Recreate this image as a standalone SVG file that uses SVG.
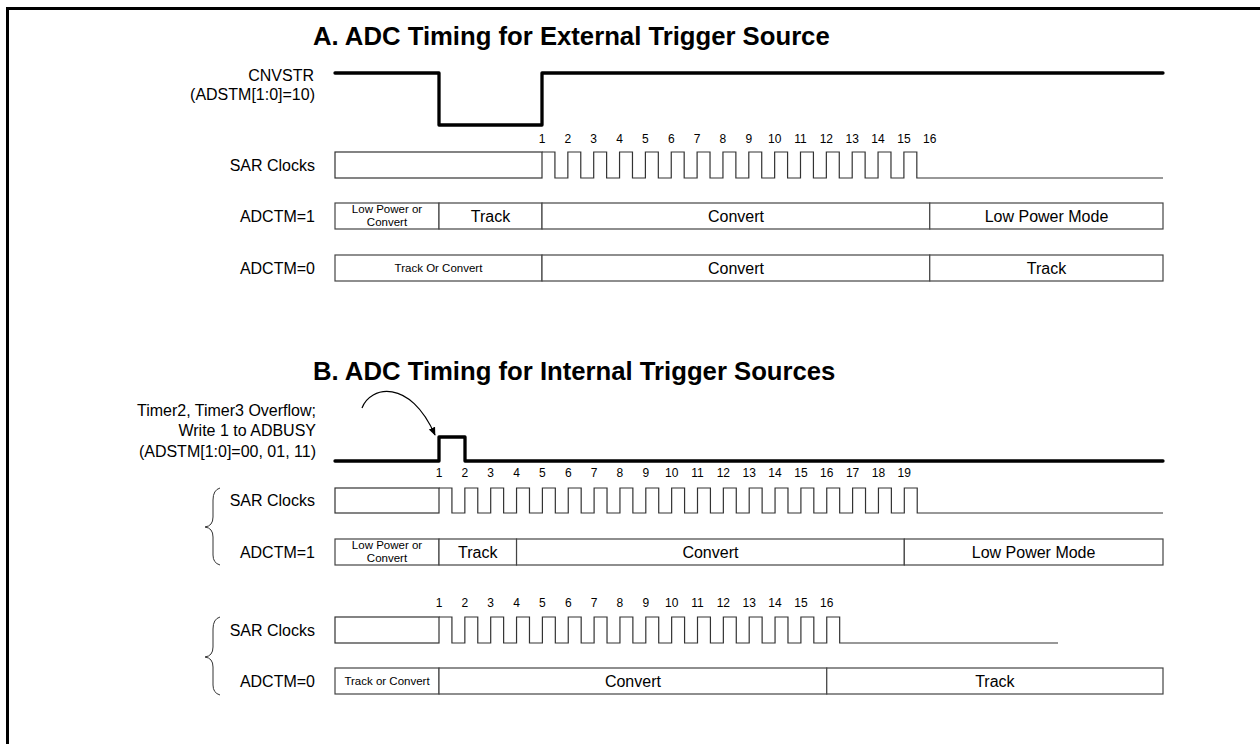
<svg xmlns="http://www.w3.org/2000/svg" width="1260" height="744" viewBox="0 0 1260 744">
<defs>
<style>
.title{font-family:"Liberation Sans",Arial,sans-serif;font-weight:bold;font-size:25.7px;fill:#000}
.lbl{font-family:"Liberation Sans",Arial,sans-serif;font-size:16px;fill:#000;text-anchor:end}
.num{font-family:"Liberation Sans",Arial,sans-serif;font-size:12px;fill:#000;text-anchor:middle}
.box{font-family:"Liberation Sans",Arial,sans-serif;font-size:16px;fill:#000;text-anchor:middle}
.sm{font-family:"Liberation Sans",Arial,sans-serif;font-size:11.5px;fill:#000;text-anchor:middle}
.thick{fill:none;stroke:#000;stroke-width:3.3;stroke-linejoin:round;stroke-linecap:round}
.clk{fill:none;stroke:#333;stroke-width:1.2}
.cell{fill:#fff;stroke:#444;stroke-width:1.2}
.brace{fill:none;stroke:#333;stroke-width:1}
</style>
<marker id="ah" viewBox="0 0 10 10" refX="9" refY="5" markerWidth="7" markerHeight="7" orient="auto">
<path d="M0,1 L10,5 L0,9 Z" fill="#000"/>
</marker>
</defs>
<rect x="0" y="0" width="1260" height="744" fill="#fff"/>
<rect x="7.5" y="8.5" width="1300" height="800" fill="none" stroke="#000" stroke-width="3"/>

<text class="title" x="313" y="45">A. ADC Timing for External Trigger Source</text>
<text class="title" x="313" y="380">B. ADC Timing for Internal Trigger Sources</text>

<g id="cnvstr">
<text class="lbl" x="314" y="81">CNVSTR</text>
<text class="lbl" x="315" y="100">(ADSTM[1:0]=10)</text>
<path class="thick" d="M335,73 H439 V125 H542 V73 H1163"/>
</g>

<g id="sarA">
<text class="lbl" x="315" y="171">SAR Clocks</text>
<rect class="clk" x="335" y="152" width="207" height="26"/>
<path class="clk" d="M542,152 h12.925 v26 h12.925 v-26 h12.925 v26 h12.925 v-26 h12.925 v26 h12.925 v-26 h12.925 v26 h12.925 v-26 h12.925 v26 h12.925 v-26 h12.925 v26 h12.925 v-26 h12.925 v26 h12.925 v-26 h12.925 v26 h12.925 v-26 h12.925 v26 h12.925 v-26 h12.925 v26 h12.925 v-26 h12.925 v26 h12.925 v-26 h12.925 v26 h12.925 v-26 h12.925 v26 h12.925 v-26 h12.925 v26 h12.925 v-26 h12.925 v26 H1163"/>
<text class="num" x="542" y="143">1</text><text class="num" x="567.85" y="143">2</text><text class="num" x="593.7" y="143">3</text><text class="num" x="619.55" y="143">4</text><text class="num" x="645.4" y="143">5</text><text class="num" x="671.25" y="143">6</text><text class="num" x="697.1" y="143">7</text><text class="num" x="722.95" y="143">8</text><text class="num" x="748.8" y="143">9</text><text class="num" x="774.65" y="143">10</text><text class="num" x="800.5" y="143">11</text><text class="num" x="826.35" y="143">12</text><text class="num" x="852.2" y="143">13</text><text class="num" x="878.05" y="143">14</text><text class="num" x="903.9" y="143">15</text><text class="num" x="929.75" y="143">16</text>
</g>

<g id="adctm1A">
<text class="lbl" x="315" y="222">ADCTM=1</text>
<rect class="cell" x="335" y="203" width="104" height="26"/>
<rect class="cell" x="439" y="203" width="103" height="26"/>
<rect class="cell" x="542" y="203" width="387.75" height="26"/>
<rect class="cell" x="929.75" y="203" width="233.25" height="26"/>
<text class="sm" x="387" y="213">Low Power or</text>
<text class="sm" x="387" y="226">Convert</text>
<text class="box" x="490.5" y="222">Track</text>
<text class="box" x="736" y="222">Convert</text>
<text class="box" x="1046.5" y="222">Low Power Mode</text>
</g>

<g id="adctm0A">
<text class="lbl" x="315" y="274">ADCTM=0</text>
<rect class="cell" x="335" y="255" width="207" height="26"/>
<rect class="cell" x="542" y="255" width="387.75" height="26"/>
<rect class="cell" x="929.75" y="255" width="233.25" height="26"/>
<text class="sm" x="438.5" y="272">Track Or Convert</text>
<text class="box" x="736" y="274">Convert</text>
<text class="box" x="1046.5" y="274">Track</text>
</g>

<g id="trigB">
<text class="lbl" x="316" y="416">Timer2, Timer3 Overflow;</text>
<text class="lbl" x="316" y="436">Write 1 to ADBUSY</text>
<text class="lbl" x="316" y="457">(ADSTM[1:0]=00, 01, 11)</text>
<path class="thick" d="M335,461 H439 V437 H465 V461 H1163"/>
</g>

<g id="sarB1">
<text class="lbl" x="315" y="506">SAR Clocks</text>
<rect class="clk" x="335" y="488" width="104" height="25"/>
<path class="clk" d="M439,488 h12.925 v25 h12.925 v-25 h12.925 v25 h12.925 v-25 h12.925 v25 h12.925 v-25 h12.925 v25 h12.925 v-25 h12.925 v25 h12.925 v-25 h12.925 v25 h12.925 v-25 h12.925 v25 h12.925 v-25 h12.925 v25 h12.925 v-25 h12.925 v25 h12.925 v-25 h12.925 v25 h12.925 v-25 h12.925 v25 h12.925 v-25 h12.925 v25 h12.925 v-25 h12.925 v25 h12.925 v-25 h12.925 v25 h12.925 v-25 h12.925 v25 h12.925 v-25 h12.925 v25 h12.925 v-25 h12.925 v25 h12.925 v-25 h12.925 v25 h12.925 v-25 h12.925 v25 H1163"/>
<text class="num" x="439" y="477">1</text><text class="num" x="464.85" y="477">2</text><text class="num" x="490.7" y="477">3</text><text class="num" x="516.55" y="477">4</text><text class="num" x="542.4" y="477">5</text><text class="num" x="568.25" y="477">6</text><text class="num" x="594.1" y="477">7</text><text class="num" x="619.95" y="477">8</text><text class="num" x="645.8" y="477">9</text><text class="num" x="671.65" y="477">10</text><text class="num" x="697.5" y="477">11</text><text class="num" x="723.35" y="477">12</text><text class="num" x="749.2" y="477">13</text><text class="num" x="775.05" y="477">14</text><text class="num" x="800.9" y="477">15</text><text class="num" x="826.75" y="477">16</text><text class="num" x="852.6" y="477">17</text><text class="num" x="878.45" y="477">18</text><text class="num" x="904.3" y="477">19</text>
</g>

<g id="adctm1B">
<text class="lbl" x="315" y="558">ADCTM=1</text>
<rect class="cell" x="335" y="539" width="104" height="26"/>
<rect class="cell" x="439" y="539" width="77.55" height="26"/>
<rect class="cell" x="516.55" y="539" width="387.75" height="26"/>
<rect class="cell" x="904.3" y="539" width="258.7" height="26"/>
<text class="sm" x="387" y="549">Low Power or</text>
<text class="sm" x="387" y="562">Convert</text>
<text class="box" x="477.8" y="558">Track</text>
<text class="box" x="710.4" y="558">Convert</text>
<text class="box" x="1033.6" y="558">Low Power Mode</text>
<path class="brace" d="M220,488 Q213,490 213,500 V517 Q213,526 205,527 Q213,528 213,537 V555 Q213,563 220,565"/>
</g>

<g id="sarB2">
<text class="lbl" x="315" y="636">SAR Clocks</text>
<rect class="clk" x="335" y="617" width="104" height="26"/>
<path class="clk" d="M439,617 h12.925 v26 h12.925 v-26 h12.925 v26 h12.925 v-26 h12.925 v26 h12.925 v-26 h12.925 v26 h12.925 v-26 h12.925 v26 h12.925 v-26 h12.925 v26 h12.925 v-26 h12.925 v26 h12.925 v-26 h12.925 v26 h12.925 v-26 h12.925 v26 h12.925 v-26 h12.925 v26 h12.925 v-26 h12.925 v26 h12.925 v-26 h12.925 v26 h12.925 v-26 h12.925 v26 h12.925 v-26 h12.925 v26 h12.925 v-26 h12.925 v26 h12.925 v-26 h12.925 v26 H1058"/>
<text class="num" x="439" y="607">1</text><text class="num" x="464.85" y="607">2</text><text class="num" x="490.7" y="607">3</text><text class="num" x="516.55" y="607">4</text><text class="num" x="542.4" y="607">5</text><text class="num" x="568.25" y="607">6</text><text class="num" x="594.1" y="607">7</text><text class="num" x="619.95" y="607">8</text><text class="num" x="645.8" y="607">9</text><text class="num" x="671.65" y="607">10</text><text class="num" x="697.5" y="607">11</text><text class="num" x="723.35" y="607">12</text><text class="num" x="749.2" y="607">13</text><text class="num" x="775.05" y="607">14</text><text class="num" x="800.9" y="607">15</text><text class="num" x="826.75" y="607">16</text>
</g>

<g id="adctm0B">
<text class="lbl" x="315" y="687">ADCTM=0</text>
<rect class="cell" x="335" y="668" width="104" height="26"/>
<rect class="cell" x="439" y="668" width="387.75" height="26"/>
<rect class="cell" x="826.75" y="668" width="336.25" height="26"/>
<text class="sm" x="387" y="685">Track or Convert</text>
<text class="box" x="632.9" y="687">Convert</text>
<text class="box" x="994.9" y="687">Track</text>
<path class="brace" d="M220,617 Q213,619 213,629 V647 Q213,656 205,657 Q213,658 213,667 V685 Q213,693 220,695"/>
</g>

<g id="connectors">
<path d="M362,408 C370,386 410,378 435,435" fill="none" stroke="#000" stroke-width="1.2" marker-end="url(#ah)"/>
</g>
</svg>
